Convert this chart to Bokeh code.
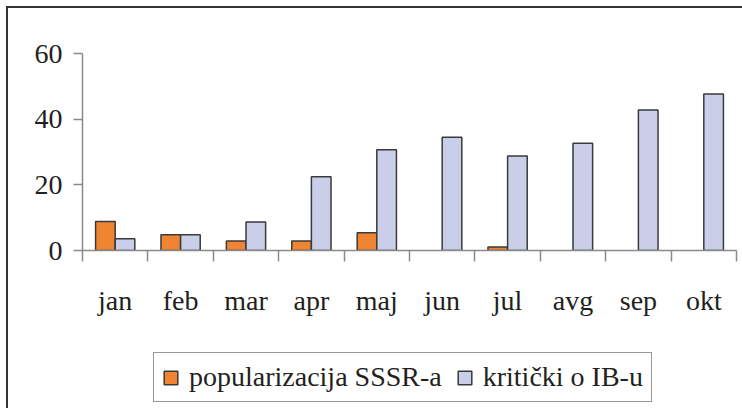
import numpy as np
from bokeh.plotting import figure
from bokeh.layouts import column
from bokeh.models import ColumnDataSource, FixedTicker, Legend, LegendItem, Range1d, CDSView, BooleanFilter
from bokeh.transform import dodge
from bokeh.embed import file_html
from bokeh.resources import INLINE

months = ["jan", "feb", "mar", "apr", "maj", "jun", "jul", "avg", "sep", "okt"]
popularizacija = [8.8, 4.8, 2.9, 2.9, 5.4, 0, 1.1, 0, 0, 0]
kriticki = [3.6, 4.8, 8.7, 22.5, 30.7, 34.5, 28.8, 32.7, 42.8, 47.7]
y_ticks = [0, 20, 40, 60]
series_names = ["popularizacija SSSR-a", "kritički o IB-u"]
colors = ["#ef8533", "#c9cfe8"]

FONT = "Liberation Serif"
AXIS_COLOR = "#8a8a8a"
TEXT_COLOR = "#231f20"
EDGE = "#3a3a3a"

xs = [i + 0.5 for i in range(len(months))]
src = ColumnDataSource(dict(x=xs, a=popularizacija, b=kriticki))

p = figure(width=734, height=335, output_backend="svg", toolbar_location=None,
           x_range=Range1d(0, len(months)), y_range=Range1d(0, 60),
           min_border_left=74, min_border_top=45, min_border_bottom=93, min_border_right=6)
p.outline_line_color = None
p.xgrid.visible = False
p.ygrid.visible = False

view_a = CDSView(filter=BooleanFilter([v > 0 for v in popularizacija]))
p.vbar(x=dodge("x", -0.15, range=p.x_range), top="a", width=0.3, source=src, view=view_a,
       fill_color=colors[0], line_color=EDGE, line_width=1.5)
p.vbar(x=dodge("x", 0.15, range=p.x_range), top="b", width=0.3, source=src,
       fill_color=colors[1], line_color=EDGE, line_width=1.5)

xa = p.xaxis[0]
xa.ticker = FixedTicker(ticks=xs, minor_ticks=list(range(len(months) + 1)))
xa.major_label_overrides = {x: m for x, m in zip(xs, months)}
xa.major_tick_line_color = None
xa.major_tick_out = 0
xa.major_tick_in = 0
xa.minor_tick_out = 11
xa.minor_tick_in = 0
xa.minor_tick_line_color = AXIS_COLOR
xa.minor_tick_line_width = 1.5
xa.axis_line_color = AXIS_COLOR
xa.axis_line_width = 1.5
xa.major_label_standoff = 23
xa.major_label_text_font = FONT
xa.major_label_text_font_size = "28px"
xa.major_label_text_color = TEXT_COLOR

ya = p.yaxis[0]
ya.ticker = FixedTicker(ticks=y_ticks, minor_ticks=[])
ya.major_tick_in = 0
ya.major_tick_out = 9
ya.major_tick_line_color = AXIS_COLOR
ya.major_tick_line_width = 1.5
ya.axis_line_color = AXIS_COLOR
ya.axis_line_width = 1.5
ya.major_label_standoff = 11
ya.major_label_text_font = FONT
ya.major_label_text_font_size = "28px"
ya.major_label_text_color = TEXT_COLOR

# legend strip below the chart; proxy renderers only provide legend swatches (NaN tops draw nothing)
lf = figure(width=734, height=65, output_backend="svg", toolbar_location=None,
            x_axis_location=None, y_axis_location=None,
            x_range=Range1d(0, len(months)), y_range=Range1d(0, 1),
            min_border=0)
lf.outline_line_color = None
lf.xgrid.visible = False
lf.ygrid.visible = False
proxy = ColumnDataSource(dict(x=xs, top=np.full(len(months), np.nan)))
la = lf.vbar(x="x", top="top", width=0.3, source=proxy,
             fill_color=colors[0], line_color=EDGE, line_width=1.5)
lb = lf.vbar(x="x", top="top", width=0.3, source=proxy,
             fill_color=colors[1], line_color=EDGE, line_width=1.5)

legend = Legend(items=[LegendItem(label=series_names[0], renderers=[la], index=0),
                       LegendItem(label=series_names[1], renderers=[lb], index=0)],
                orientation="horizontal", location=(71, 6),
                glyph_width=17, glyph_height=17, label_standoff=10, spacing=14,
                padding=8, margin=0, border_line_color="#333333", border_line_width=1.5,
                background_fill_alpha=1)
legend.label_text_font = FONT
legend.label_text_font_size = "28px"
legend.label_text_color = TEXT_COLOR
lf.add_layout(legend, "center")

layout = column(p, lf, spacing=0)
layout.styles = {"border-left": "2px solid #333333", "border-top": "2px solid #333333",
                 "margin-left": "6px", "margin-top": "6px"}

open("out.html", "w").write(file_html(layout, INLINE))
